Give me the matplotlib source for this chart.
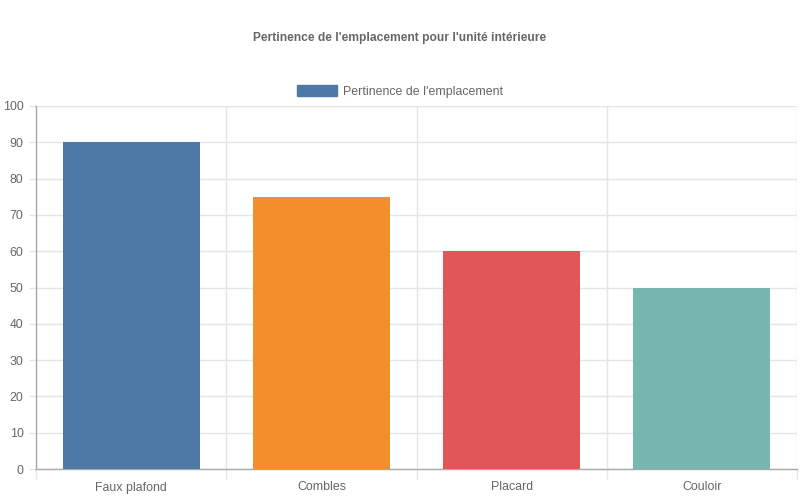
import matplotlib
matplotlib.use("Agg")
import matplotlib.pyplot as plt
import numpy as np
from matplotlib.patches import Patch

plt.rcParams['font.family'] = ['Liberation Sans', 'DejaVu Sans']

categories = ["Faux plafond", "Combles", "Placard", "Couloir"]
values = [90, 75, 60, 50]
colors = ["#4e79a7", "#f28e2b", "#e15759", "#76b7b2"]
title = "Pertinence de l'emplacement pour l'unité intérieure"
series_label = "Pertinence de l'emplacement"
yticks = list(range(0, 101, 10))

fig = plt.figure(figsize=(8, 5), dpi=100)
ax = fig.add_axes([36/800, 31/500, (797-36)/800, (469-106)/500])

x = np.arange(len(categories))
ax.bar(x, values, width=0.72, color=colors, zorder=3)

ax.set_xlim(-0.5, len(categories) - 0.5)
ax.set_ylim(0, 100)
ax.set_yticks(yticks)
ax.set_xticks(x)
ax.set_xticklabels(categories)
ax.set_xticks(np.arange(-0.5, len(categories), 1.0), minor=True)

grid_c = "#e5e5e5"
axis_c = "#a8a8a8"
ax.grid(False)
ax.yaxis.grid(True, color=grid_c, linewidth=1, zorder=0)
ax.xaxis.grid(True, which='minor', color=grid_c, linewidth=1, zorder=0)

fs = 8.9
ax.tick_params(axis='x', which='major', length=0, pad=9, labelsize=fs, labelcolor='#666666')
ax.tick_params(axis='x', which='minor', length=7.2, color=grid_c, width=1)
ax.tick_params(axis='y', which='major', length=5, color=grid_c, width=1, pad=4, labelsize=fs, labelcolor='#666666')

for s in ['top', 'right']:
    ax.spines[s].set_visible(False)
for s in ['left', 'bottom']:
    ax.spines[s].set_color(axis_c)
    ax.spines[s].set_linewidth(1)

fig.text(0.5, 1 - 37.8/500, title, ha='center', va='center', fontsize=8.65, fontweight='bold', color='#666666')

handle = Patch(facecolor=colors[0], edgecolor=colors[0])
fig.legend([handle], [series_label], loc='center', bbox_to_anchor=(0.5, 1 - 91.5/500),
           frameon=False, fontsize=fs, handlelength=3.2, handleheight=0.95, handletextpad=0.5,
           labelcolor='#666666')

fig.savefig("out.png", dpi=100, facecolor='white')
